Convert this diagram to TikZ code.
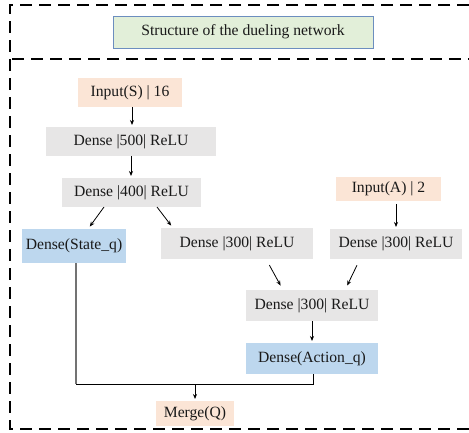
\documentclass[tikz,border=0pt]{standalone}
\usepackage{fontspec}
\setmainfont{Liberation Serif}
\usetikzlibrary{arrows.meta}
\definecolor{peach}{HTML}{FBE5D6}
\definecolor{greyfill}{HTML}{E7E6E6}
\definecolor{bluefill}{HTML}{BDD7EE}
\definecolor{greenfill}{HTML}{E2EFD9}
\definecolor{frameblue}{HTML}{6C8EBF}
\tikzset{
  box/.style={inner sep=0pt, outer sep=0pt, font=\fontsize{15.7}{18}\selectfont, text=black!90},
  inbox/.style={box, fill=peach},
  densebox/.style={box, fill=greyfill},
  qbox/.style={box, fill=bluefill},
  border/.style={line width=1.7bp, dash pattern=on 12bp off 7bp},
  flow/.style={line width=0.8bp, -{Stealth[length=5bp,width=4bp]}},
}
\begin{document}
\begin{tikzpicture}[x=1bp,y=-1bp]
\useasboundingbox (0,0) rectangle (469,433);
% dashed frame
\draw[border] (469,5) -- (10,5) -- (10,429) -- (469,429);
\draw[border] (12,59) -- (469,59);
% title
\node[box, fill=greenfill, draw=frameblue, line width=0.6bp, minimum width=260bp, minimum height=32bp]
      (title) at (243,32) {Structure of the dueling network};
% network layers
\node[inbox, minimum width=104bp, minimum height=29bp] (inS) at (130,92.5) {Input(S) | 16};
\node[densebox, minimum width=170bp, minimum height=29bp] (d500) at (131,141.5) {Dense |500| ReLU};
\node[densebox, minimum width=139bp, minimum height=29bp] (d400) at (131.5,192.5) {Dense |400| ReLU};
\node[qbox, minimum width=104bp, minimum height=34bp] (stq) at (74,246) {Dense(State\_q)};
\node[densebox, minimum width=152bp, minimum height=31bp] (d300l) at (237,243.5) {Dense |300| ReLU};
\node[inbox, minimum width=105bp, minimum height=24bp] (inA) at (388.5,189) {Input(A) | 2};
\node[densebox, minimum width=132bp, minimum height=30bp] (d300r) at (396,244) {Dense |300| ReLU};
\node[densebox, minimum width=132bp, minimum height=31bp] (d300m) at (312,305.5) {Dense |300| ReLU};
\node[qbox, minimum width=132bp, minimum height=31bp] (actq) at (312,358.5) {Dense(Action\_q)};
\node[inbox, minimum width=78bp, minimum height=25bp] (merge) at (195,413.5) {Merge(Q)};
% connectors
\coordinate (join) at (195,384);
\draw[flow, shorten >=2bp] ([xshift=2bp]inS.south) -- ([xshift=2bp]inS.south |- d500.north);
\draw[flow, shorten >=2bp] (d500.south) -- (d500.south |- d400.north);
\draw[flow, shorten >=3bp] ([xshift=-27.5bp]d400.south) -- ([xshift=14bp]stq.north);
\draw[flow, shorten >=3bp] ([xshift=25.5bp]d400.south) -- ([xshift=-64bp]d300l.north);
\draw[flow, shorten <=3bp, shorten >=2bp] ([xshift=7.5bp]inA.south) -- ([xshift=7.5bp]inA.south |- d300r.north);
\draw[flow, shorten <=7bp, shorten >=5bp] ([xshift=29bp]d300l.south) -- ([xshift=-29bp]d300m.north);
\draw[flow, shorten <=7bp, shorten >=5bp] ([xshift=-36bp]d300r.south) -- ([xshift=33bp]d300m.north);
\draw[flow, shorten >=2bp] (d300m.south) -- (actq.north);
\draw[line width=1.3bp, black!55] ([xshift=2bp]stq.south) -- ([xshift=2bp]stq.south |- join);
\draw[line width=0.9bp] ([xshift=2bp]stq.south |- join) -- ([xshift=1bp]actq.south |- join) -- ([xshift=1bp]actq.south);
\draw[flow, shorten >=2bp] (join) -- (merge.north);
\end{tikzpicture}
\end{document}
